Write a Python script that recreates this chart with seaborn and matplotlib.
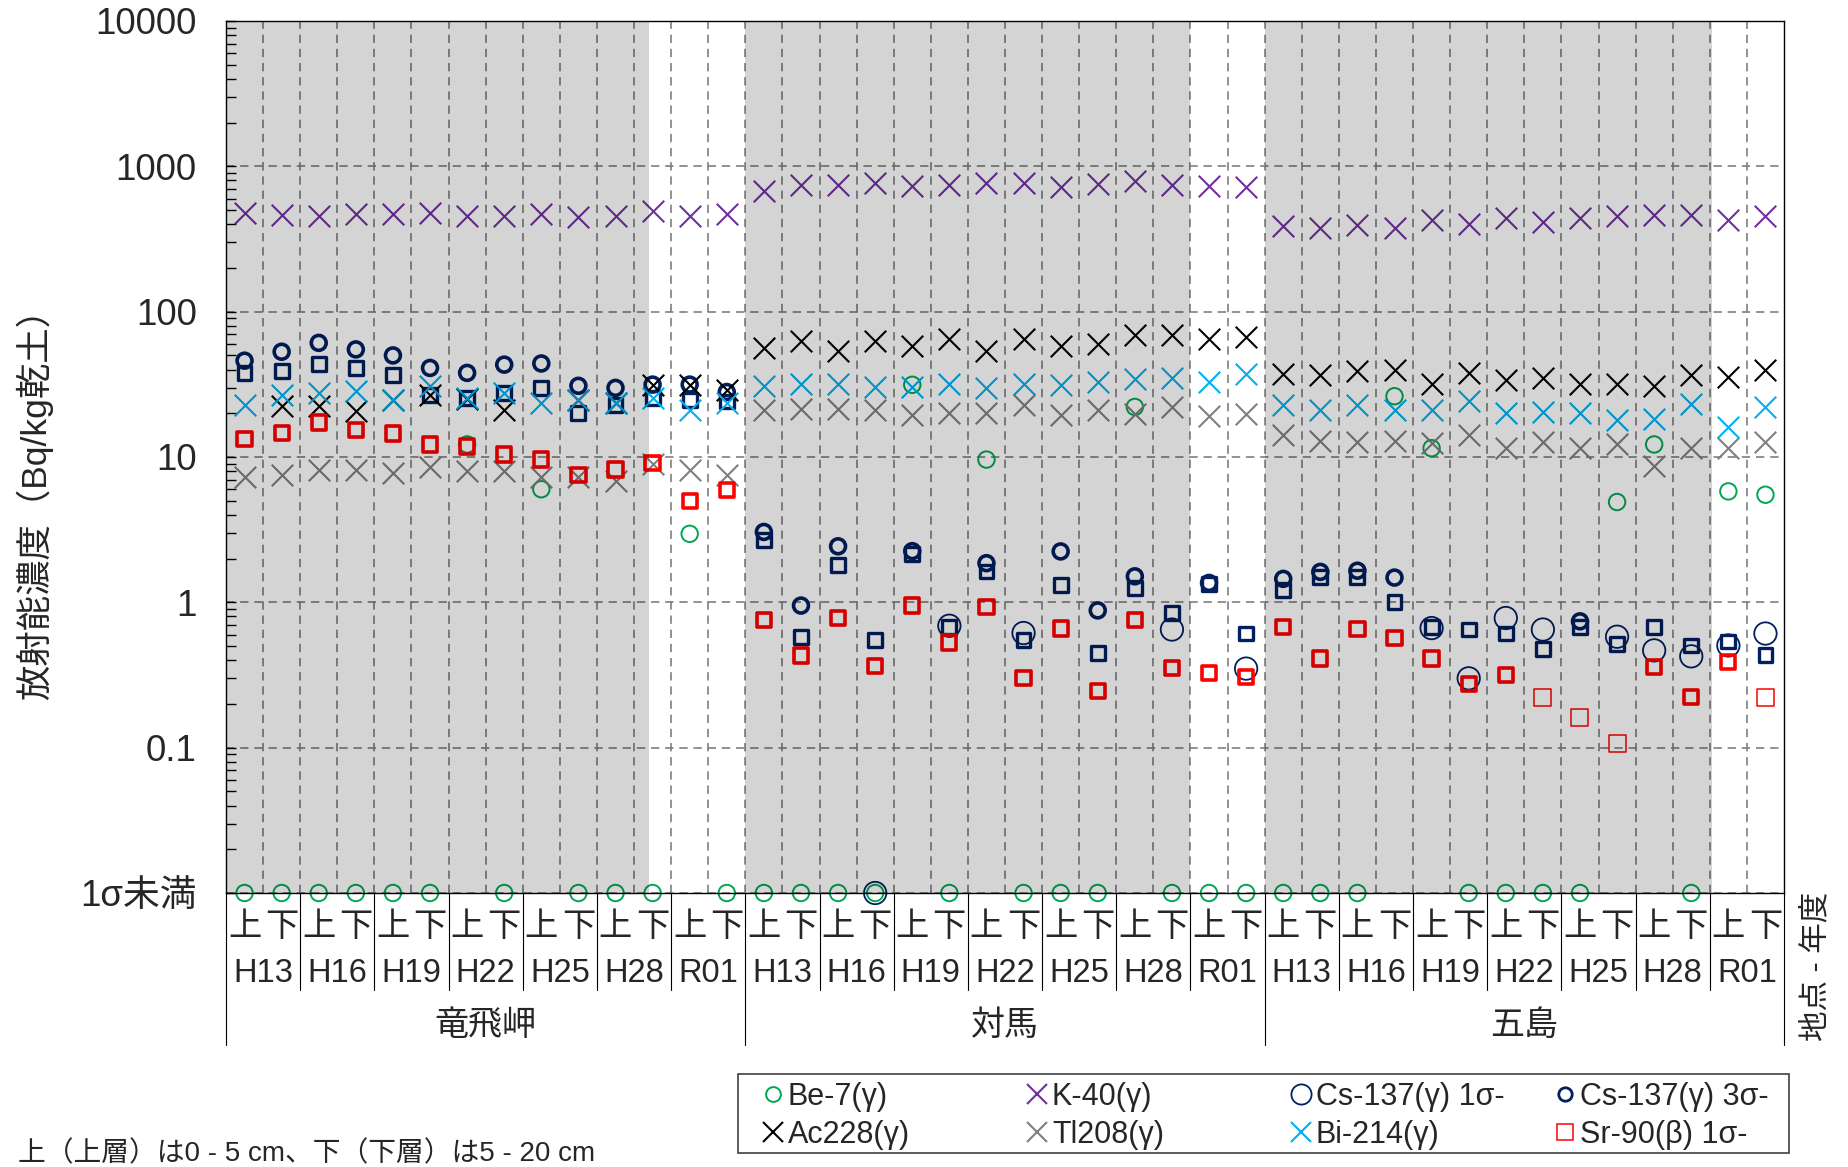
import numpy as np
import pandas as pd
import matplotlib
matplotlib.use('Agg')
import matplotlib.pyplot as plt
from matplotlib.lines import Line2D
from matplotlib.patches import Rectangle
from matplotlib.transforms import blended_transform_factory
import seaborn as sns

# --- categories -------------------------------------------------------------
sites = ['竜飛岬', '対馬', '五島']
years = ['H13', 'H16', 'H19', 'H22', 'H25', 'H28', 'R01']
layers = ['上', '下']

ND = 'ND'        # 1σ未満 -> drawn on the bottom line
nan = np.nan

# --- values (Bq/kg乾土), 42 points: site x year x layer ----------------------
be7 = [ND, ND, ND, ND, ND, ND, 12.2, ND, 6.0, ND, ND, ND, 2.96, ND,
       ND, ND, ND, ND, 31.4, ND, 9.6, ND, ND, ND, 22.1, ND, ND, ND,
       ND, ND, ND, 26.2, 11.5, ND, ND, ND, ND, 4.9, 12.2, ND, 5.8, 5.5]
k40 = [475, 462, 457, 470, 470, 480, 457, 457, 470, 445, 457, 492, 457, 470,
       679, 748, 748, 770, 731, 748, 770, 770, 719, 760, 791, 748, 731, 719,
       390, 379, 393, 375, 425, 402, 440, 415, 440, 452, 465, 465, 427, 452]
cs137_1s = [nan] * 14 + \
    [nan, nan, nan, ND, nan, 0.69, nan, 0.615, nan, nan, nan, 0.65, nan, 0.35,
     nan, nan, nan, nan, 0.665, 0.30, 0.78, 0.65, nan, 0.58, 0.467, 0.425, 0.505, 0.61]
cs137_3s = [46, 53, 61, 55, 50, 41, 37.9, 43.2, 44, 30.9, 29.9, 31.5, 31.5, 28,
            3.05, 0.95, 2.43, nan, 2.25, nan, 1.86, nan, 2.24, 0.88, 1.51, nan, 1.36, nan,
            1.45, 1.62, 1.65, 1.48, nan, nan, nan, nan, 0.74, nan, nan, nan, nan, nan]
cs137_sq = [37.9, 38.8, 43.8, 40.9, 36.8, 26.8, 25.5, 27.6, 29.9, 20.1, 22.9, 25.5, 24.8, 24.1,
            2.7, 0.58, 1.81, 0.547, 2.15, 0.68, 1.63, 0.55, 1.32, 0.448, 1.25, 0.85, 1.33, 0.61,
            1.22, 1.5, 1.5, 1.01, 0.68, 0.65, 0.61, 0.476, 0.68, 0.52, 0.68, 0.505, 0.538, 0.436]
ac228 = [nan, 22.3, 22.3, 20.6, 24.8, 26.8, 25, 21.2, nan, 24.8, 23.5, 31.5, 31.5, 29,
         56.4, 63, 54, 63, 58, 65, 54, 65, 58, 60, 68.7, 68.7, 65, 66.8,
         37.2, 36.4, 38.9, 39.4, 32, 37.9, 33.9, 34.8, 32, 32, 31, 36.8, 35.8, 40]
tl208 = [7.3, 7.5, 8.2, 8.2, 7.8, 8.5, 8.0, 8.0, 7.3, 7.3, 6.8, 8.9, 8.2, 7.5,
         20.9, 21.5, 21.5, 21.1, 19.5, 20, 20, 22.8, 19.5, 20.9, 19.8, 22.1, 19.2, 19.8,
         14.1, 12.9, 12.7, 12.9, 12.5, 14.1, 11.5, 12.7, 11.5, 12.2, 8.7, 11.5, 11.5, 12.7]
bi214 = [22.9, 26.8, 27.6, 28.3, 24.8, 30.6, 25.5, 27.6, 23.5, 24.8, 23.5, 25.5, 21.2, 23.5,
         30.8, 32, 32, 30.2, 30.2, 32, 29.7, 32, 31.5, 32.9, 34.4, 34.8, 32.9, 37.2,
         22.8, 20.9, 22.8, 20.9, 20.9, 24.1, 20, 20.5, 20.2, 17.9, 18.2, 23, 16.0, 22]
sr90_3s = [13.3, 14.6, 17.3, 15.4, 14.5, 12.2, 11.8, 10.4, 9.6, 7.5, 8.2, 9.1, 5.0, 5.95,
           0.76, 0.43, 0.78, 0.366, 0.95, 0.53, 0.93, 0.30, 0.66, 0.244, 0.76, 0.353, 0.326, 0.306,
           0.68, 0.41, 0.655, 0.57, 0.41, 0.275, 0.318, nan, nan, nan, 0.357, 0.223, 0.39, nan]
sr90_1s = [nan] * 28 + \
    [nan, nan, nan, nan, nan, nan, nan, 0.223, 0.162, 0.107, nan, nan, nan, 0.223]

FLOOR = 0.01     # value axis position used for "1σ未満"

GREEN = '#00A650'
PURPLE = '#7030A0'
NAVY = '#002060'
GREY = '#7F7F7F'
CYAN = '#00B0F0'
RED = '#FF0000'

sns.set_style('white')
plt.rcParams['font.family'] = ['Liberation Sans', 'Noto Sans CJK JP']
plt.rcParams['axes.unicode_minus'] = False

W, H = 1848, 1167
fig = plt.figure(figsize=(W / 100, H / 100), dpi=100)
ax = fig.add_axes([226 / W, 1 - 893 / H, 1558 / W, 872 / H])

n = len(sites) * len(years) * len(layers)
pos = np.arange(n)


def frame(values):
    v = [FLOOR if x == ND else x for x in values]
    df = pd.DataFrame({'pos': pos, 'value': np.array(v, dtype=float)})
    return df.dropna()


hollow = dict(facecolor='none')
styles = [
    ('Be-7(γ)', be7, dict(marker='o', s=140, edgecolor=GREEN, linewidth=1.4, **hollow)),
    (None, cs137_sq, dict(marker='s', s=100, edgecolor=NAVY, linewidth=2.4, **hollow)),
    ('K-40(γ)', k40, dict(marker='x', s=240, color=PURPLE, linewidth=1.5)),
    ('Cs-137(γ) 1σ-', cs137_1s, dict(marker='o', s=260, edgecolor=NAVY, linewidth=1.3, **hollow)),
    ('Cs-137(γ) 3σ-', cs137_3s, dict(marker='o', s=115, edgecolor=NAVY, linewidth=2.6, **hollow)),
    ('Ac228(γ)', ac228, dict(marker='x', s=240, color='black', linewidth=1.5)),
    ('Tl208(γ)', tl208, dict(marker='x', s=240, color=GREY, linewidth=1.5)),
    ('Bi-214(γ)', bi214, dict(marker='x', s=240, color=CYAN, linewidth=1.5)),
    (None, sr90_3s, dict(marker='s', s=105, edgecolor=RED, linewidth=2.6, **hollow)),
    ('Sr-90(β) 1σ-', sr90_1s, dict(marker='s', s=150, edgecolor=RED, linewidth=1.1, **hollow)),
]

handles = {}
for label, values, kw in styles:
    sns.scatterplot(data=frame(values), x='pos', y='value', ax=ax, legend=False,
                    clip_on=False, zorder=3, **kw)
    if label:
        ec = kw.get('edgecolor', kw.get('color'))
        handles[label] = Line2D([], [], ls='none', marker=kw['marker'],
                                markersize=np.sqrt(kw['s']) * 0.9,
                                markerfacecolor='none', markeredgecolor=ec,
                                markeredgewidth=min(kw['linewidth'], 2.0))

ax.set_yscale('log')
ax.set_ylim(FLOOR, 10000)
ax.set_xlim(-0.5, n - 0.5)
ax.set_xlabel('')
ax.set_ylabel('')

ax.set_yticks([0.01, 0.1, 1, 10, 100, 1000, 10000])
ax.set_yticklabels(['1σ未満', '0.1', '1', '10', '100', '1000', '10000'])
ax.tick_params(axis='y', which='both', direction='in', labelsize=26.5, pad=21,
               color='black', left=True)
ax.tick_params(axis='y', which='major', length=7, width=1)
ax.tick_params(axis='y', which='minor', length=7, width=1, labelleft=False)

ax.set_xticks([])
ax.set_xticks(np.arange(0.5, n - 1, 1), minor=True)
ax.tick_params(axis='x', which='both', length=0, labelbottom=False)

grid_kw = dict(color=GREY, linewidth=1.2, linestyle=(0, (5, 3.5)))
ax.grid(True, which='major', axis='y', **grid_kw)
ax.grid(True, which='minor', axis='x', **grid_kw)
ax.grid(False, which='minor', axis='y')
ax.grid(False, which='major', axis='x')

for sp in ax.spines.values():
    sp.set_color('black')
    sp.set_linewidth(1.0)
    sp.set_zorder(6)

# shaded (overlay) columns
for x0, x1 in [(-0.5, 10.9), (13.5, 25.5), (27.5, 39.55)]:
    ax.axvspan(x0, x1, color='black', alpha=0.17, lw=0, zorder=4)

# multi-level category axis
tr = blended_transform_factory(ax.transData, ax.transAxes)
per_site = len(years) * len(layers)
for i in range(n):
    ax.text(i, -0.040, layers[i % 2], transform=tr, ha='center', va='center',
            fontsize=24)
for s, site in enumerate(sites):
    for y, yr in enumerate(years):
        xc = s * per_site + y * 2 + 0.5
        ax.text(xc, -0.0925, yr, transform=tr, ha='center', va='center', fontsize=23.5)
        if y > 0:
            xb = s * per_site + y * 2 - 0.5
            ax.plot([xb, xb], [0, -0.111], transform=tr, color='black', lw=0.8,
                    clip_on=False)
    ax.text(s * per_site + per_site / 2 - 0.5, -0.1525, site, transform=tr,
            ha='center', va='center', fontsize=24.5)
for s in range(len(sites) + 1):
    xb = s * per_site - 0.5
    ax.plot([xb, xb], [0, -0.174], transform=tr, color='black', lw=0.8, clip_on=False)

fig.text(1816 / W, 1 - 966 / H, '地点 - 年度', rotation=90, ha='center',
         va='center', fontsize=22)
fig.text(34 / W, 1 - 496 / H, '放射能濃度（Bq/kg乾土）', rotation=90,
         ha='center', va='center', fontsize=25.5)
fig.text(18 / W, 1 - 1154 / H, '上（上層）は0 - 5 cm、下（下層）は5 - 20 cm',
         ha='left', va='center', fontsize=20)

# legend: framed box with four equal-width columns
fig.patches.append(Rectangle((738 / W, 1 - 1153 / H), 1051 / W, 79 / H,
                             transform=fig.transFigure, fill=False,
                             edgecolor='#404040', lw=1.2))
columns = [['Be-7(γ)', 'Ac228(γ)'], ['K-40(γ)', 'Tl208(γ)'],
           ['Cs-137(γ) 1σ-', 'Bi-214(γ)'], ['Cs-137(γ) 3σ-', 'Sr-90(β) 1σ-']]
for j, col in enumerate(columns):
    x_left = 773 + 264 * j - 11
    fig.legend([handles[k] for k in col], col, loc='center left',
               bbox_to_anchor=(x_left / W, 1 - 1116 / H), frameon=False,
               fontsize=22, handlelength=0.7, handletextpad=0.15,
               borderaxespad=0, borderpad=0, labelspacing=0.25)

fig.savefig('out.png', dpi=100)
